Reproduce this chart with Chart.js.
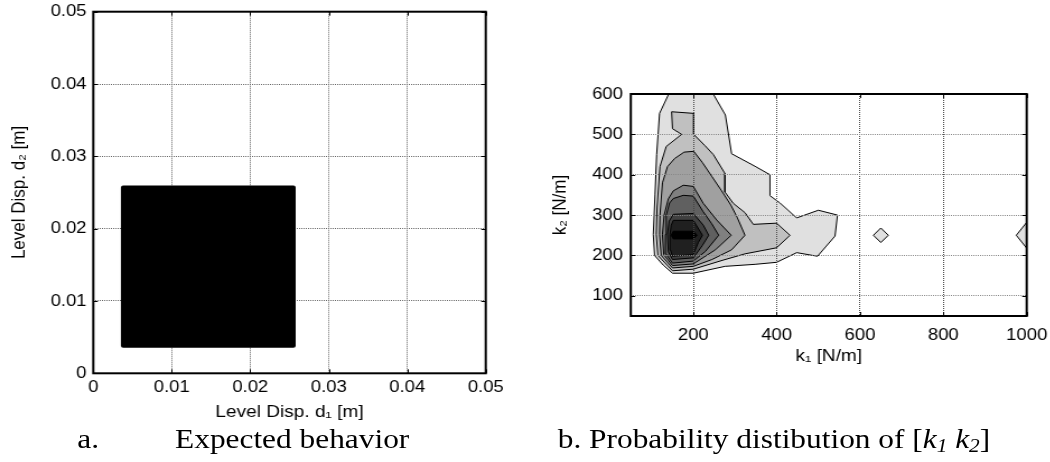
<!DOCTYPE html>
<html><head><meta charset="utf-8">
<script src="https://cdn.jsdelivr.net/npm/chart.js@4.4.1/dist/chart.umd.min.js"></script>
<style>
html,body{margin:0;padding:0;background:#fff;overflow:hidden;width:1050px;height:462px}
#stage{position:absolute;left:0;top:0;width:937.5px;height:462px;transform:scaleX(1.12);transform-origin:0 0;}
canvas{position:absolute;top:0}
#cA{left:0}
#cB{left:473px}
.cap{position:absolute;font-family:"Liberation Serif","Times New Roman",serif;font-size:28px;line-height:28px;white-space:nowrap;color:#000}
.cap sub{font-size:0.68em;vertical-align:-0.2em;line-height:0}
</style></head><body>
<div id="stage">
<canvas id="cA" width="464" height="462"></canvas>
<canvas id="cB" width="465" height="462"></canvas>
<div class="cap" style="left:69px;top:424.5px">a.</div>
<div class="cap" style="left:156.3px;top:424.5px">Expected behavior</div>
<div class="cap" style="left:498px;top:424.5px">b. Probability distibution of [<i>k<sub>1</sub></i> <i>k<sub>2</sub></i>]</div>
</div>
<script>
// ---------------- data ----------------
// (a) expected behaviour region, level displacements [m]
const dispTicks = [0, 0.01, 0.02, 0.03, 0.04, 0.05];
const dispTickLabels = ['0', '0.01', '0.02', '0.03', '0.04', '0.05'];
const expectedD1 = [0.0038, 0.0255, 0.0255, 0.0038, 0.0038];
const expectedD2 = [0.0038, 0.0038, 0.0257, 0.0257, 0.0038];

// (b) probability contours of [k1 k2], N/m  (outer level 1 -> inner level 8)
const k1Ticks = [200, 400, 600, 800, 1000];
const k1TickLabels = ['200', '400', '600', '800', '1000'];
const k2Ticks = [100, 200, 300, 400, 500, 600];
const k2TickLabels = ['100', '200', '300', '400', '500', '600'];

const level1 = [[141,600],[119,552],[112,450],[108,350],[104,252],[107,200],[128,176],[150,156],[200,156],[276,173],[348,178],[400,183],[448,207],[498,198],[540,248],[546,300],[500,312],[448,293],[408,330],[384,348],[384,400],[348,421],[292,452],[277,548],[249,598],[248,600]];
const level1PeakA = [[632,250],[650,268],[668,250],[650,232]];
const level1PeakB = [[1000,282],[975,250],[1000,218]];
const level2 = [[148,556],[201,552],[201,500],[228,472],[248,450],[276,403],[276,357],[296,329],[324,306],[344,277],[400,280],[432,250],[400,219],[324,204],[270,188],[200,166],[150,162],[115,200],[111,252],[113,320],[120,420],[135,470],[172,500],[150,514]];
const level3 = [[119,252],[120,300],[126,380],[138,420],[155,440],[178,456],[201,458],[222,430],[245,395],[268,360],[290,325],[305,295],[324,250],[292,214],[245,190],[200,173],[150,169],[123,200]];
const level4 = [[126,252],[130,300],[140,340],[152,360],[176,374],[200,371],[224,329],[256,288],[291,250],[253,214],[200,179],[150,175],[129,202]];
const level5 = [[133,252],[135,300],[143,330],[152,341],[176,349],[200,347],[224,308],[244,279],[261,250],[229,210],[200,186],[150,181],[134,204]];
const level6 = [[138,252],[142,285],[152,302],[200,304],[224,275],[237,250],[222,225],[200,194],[150,190],[140,209]];
const level7 = [[144,252],[147,275],[152,287],[200,287],[222,250],[212,232],[200,202],[150,198],[145,214]];
const level8 = [[147,250],[152,260],[200,260],[209,250],[200,241],[152,241]];

const contourSets = [
  {lvl: 1, pts: level1}, {lvl: 1, pts: level1PeakA}, {lvl: 1, pts: level1PeakB},
  {lvl: 2, pts: level2}, {lvl: 3, pts: level3}, {lvl: 4, pts: level4},
  {lvl: 5, pts: level5}, {lvl: 6, pts: level6}, {lvl: 7, pts: level7}, {lvl: 8, pts: level8}
];

// ---------------- styling ----------------
const FAM = '"Liberation Sans", Arial, Helvetica, sans-serif';
Chart.defaults.font.family = FAM;
Chart.defaults.color = '#000';
const shade = lvl => { const c = Math.max(0, Math.round(224 - (lvl - 1) * 32)); return `rgb(${c},${c},${c})`; };

const boxPlugin = {
  id: 'box',
  afterDraw(chart, args, opts) {
    const {ctx, chartArea: a, scales: {x, y}} = chart;
    const L = opts.len || 4;
    ctx.save();
    ctx.strokeStyle = '#000';
    ctx.lineWidth = 1;
    ctx.beginPath();
    x.ticks.forEach(t => {
      const px = Math.round(x.getPixelForValue(t.value)) + 0.5;
      ctx.moveTo(px, a.bottom); ctx.lineTo(px, a.bottom - L);
      ctx.moveTo(px, a.top); ctx.lineTo(px, a.top + L);
    });
    y.ticks.forEach(t => {
      const py = Math.round(y.getPixelForValue(t.value)) + 0.5;
      ctx.moveTo(a.left, py); ctx.lineTo(a.left + L, py);
      ctx.moveTo(a.right, py); ctx.lineTo(a.right - L, py);
    });
    ctx.stroke();
    ctx.lineWidth = 2;
    ctx.strokeRect(a.left, a.top, a.right - a.left, a.bottom - a.top);
    ctx.restore();
  }
};

function axis(c) {
  return {
    type: 'linear', min: c.min, max: c.max,
    afterBuildTicks: s => { s.ticks = c.ticks.map(v => ({value: v})); },
    afterFit: s => {
      if (c.w !== undefined) s.width = c.w;
      if (c.h !== undefined) s.height = c.h;
      s.paddingLeft = 0; s.paddingRight = 0; s.paddingTop = 0; s.paddingBottom = 0;
    },
    ticks: {font: {size: 16.5}, color: '#000', padding: c.tickPad, autoSkip: false, maxRotation: 0,
            callback: (v, i) => c.labels[c.ticks.indexOf(v)] },
    grid: {color: c.gridColor, lineWidth: 1, drawTicks: false, z: c.gridZ || -1},
    border: {display: false, dash: [1, 1]},
    title: {display: true, text: c.title, font: {size: 17}, color: '#000', padding: c.titlePad}
  };
}

// ---------------- chart a ----------------
new Chart(document.getElementById('cA'), {
  type: 'scatter',
  data: {datasets: [{
    data: expectedD1.map((x, i) => ({x, y: expectedD2[i]})),
    showLine: true, fill: 'shape', backgroundColor: '#000', borderColor: '#000',
    borderWidth: 4, borderJoinStyle: 'round', pointRadius: 0, tension: 0
  }]},
  options: {
    responsive: false, animation: false, devicePixelRatio: 1,
    layout: {padding: {left: 0, top: 11.7, right: 30.3, bottom: 0}},
    plugins: {legend: {display: false}, tooltip: {enabled: false}, box: {len: 4}},
    scales: {
      x: axis({min: 0, max: 0.05, ticks: dispTicks, labels: dispTickLabels, h: 88.7, tickPad: 4,
               gridColor: '#666', title: 'Level Disp. d\u2081 [m]', titlePad: {top: 0, bottom: 39}}),
      y: axis({min: 0, max: 0.05, ticks: dispTicks, labels: dispTickLabels, w: 83.3, tickPad: 6,
               gridColor: '#666', title: 'Level Disp. d\u2082 [m]', titlePad: {top: 7, bottom: 0}})
    }
  },
  plugins: [boxPlugin]
});

// ---------------- chart b ----------------
const nSets = contourSets.length;
new Chart(document.getElementById('cB'), {
  type: 'scatter',
  data: {datasets: contourSets.map((s, i) => ({
    data: s.pts.concat([s.pts[0]]).map(p => ({x: p[0], y: p[1]})),
    showLine: true, fill: 'shape', backgroundColor: shade(s.lvl), borderColor: '#000',
    borderWidth: 1, pointRadius: 0, tension: 0, order: nSets - i
  }))},
  options: {
    responsive: false, animation: false, devicePixelRatio: 1,
    layout: {padding: {left: 0, top: 94, right: 21.3, bottom: 0}},
    plugins: {legend: {display: false}, tooltip: {enabled: false}, box: {len: 4}},
    scales: {
      x: axis({min: 50, max: 1000, ticks: k1Ticks, labels: k1TickLabels, h: 146, tickPad: 10,
               gridColor: '#444', gridZ: 1, title: 'k\u2081 [N/m]', titlePad: {top: 0, bottom: 95}}),
      y: axis({min: 50, max: 600, ticks: k2Ticks, labels: k2TickLabels, w: 90.2, tickPad: 7,
               gridColor: '#888', gridZ: 1, title: 'k\u2082 [N/m]', titlePad: {top: 17, bottom: 0}})
    }
  },
  plugins: [boxPlugin]
});
</script>
</body></html>
